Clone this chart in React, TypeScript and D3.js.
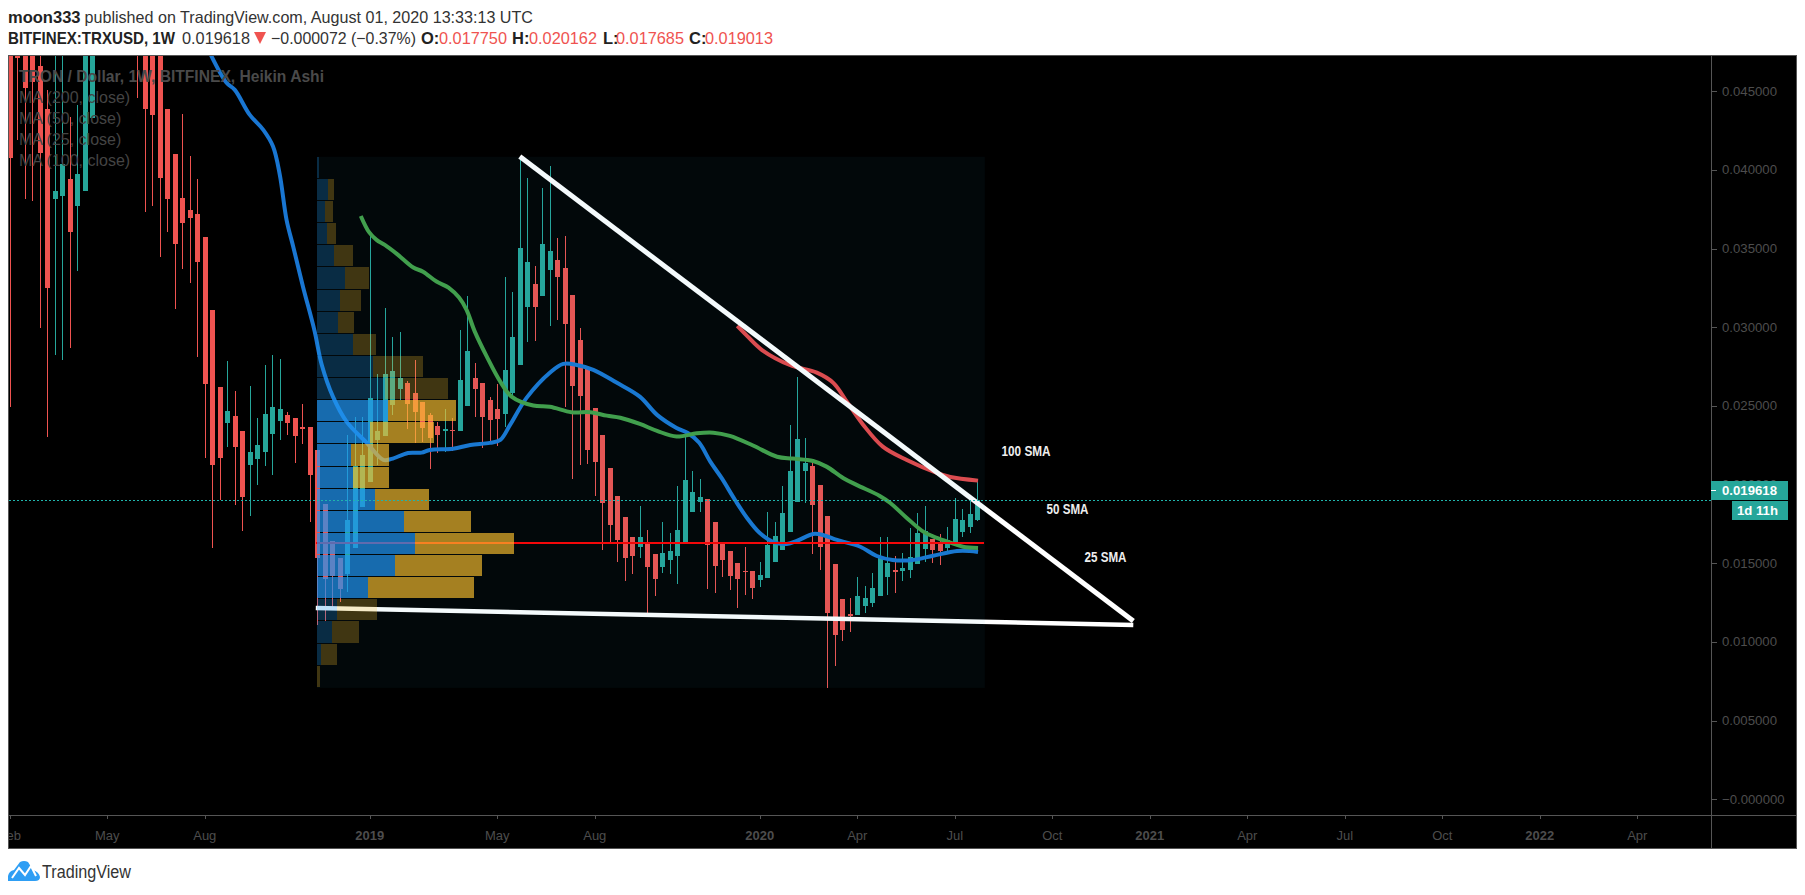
import React from "react";
import * as d3 from "d3";

// Weekly Heikin Ashi candles, week 1 .. week 130
const opens = [
  .04826,.04889,.04950,.04900,.04660,.04388,.03815,.03834,.03942,.03771,
  .03866,.04330,.05600,.05400,.05800,.05600,.05400,.05200,.04900,.04800,
  .04800,.04388,.04101,.03822,.03745,.03720,.03574,.03110,.02620,.02392,
  .02436,.02341,.02125,.02163,.02208,.02322,.02405,.02443,.02424,.02366,
  .02366,.02220,.01877,.01642,.01534,.01432,.01597,.01858,.02017,.02284,
  .02309,.02506,.02608,.02646,.02582,.02525,.02443,.02373,.02341,.02347,
  .02341,.02500,.02678,.02646,.02538,.02481,.02449,.02582,.02760,.03129,
  .03275,.03199,.03364,.03428,.03377,.03205,.02919,.02741,.02487,.02316,
  .02106,.01928,.01795,.01667,.01604,.01629,.01559,.01477,.01521,.01547,
  .01636,.01826,.01890,.01909,.01763,.01623,.01578,.01502,.01451,.01451,
  .01394,.01407,.01509,.01585,.01699,.01890,.02087,.02119,.01998,.01801,
  .01496,.01273,.01178,.01172,.01229,.01248,.01292,.01413,.01458,.01451,
  .01458,.01496,.01591,.01655,.01636,.01597,.01636,.01699,.01731,.01775,
];
const highs = [
  .04950,.04950,.05100,.05050,.04950,.04508,.04900,.04900,.04336,.04413,
  .05300,.05500,.06100,.06000,.06500,.05900,.05700,.05400,.05000,.04950,
  .04900,.04388,.04101,.04356,.04089,.03942,.03574,.03110,.02620,.02786,
  .02595,.02341,.02627,.02424,.02760,.02824,.02799,.02462,.02424,.02513,
  .02366,.02220,.01877,.01642,.01534,.02316,.02430,.02430,.03599,.02703,
  .03123,.02938,.02970,.02659,.02792,.02525,.02455,.02398,.02481,.02424,
  .02983,.03199,.02773,.02646,.02557,.02640,.03320,.03224,.04070,.03949,
  .03390,.03885,.04025,.03568,.03580,.03205,.02996,.02741,.02487,.02316,
  .02106,.01928,.01795,.01667,.01864,.01712,.01559,.01763,.01693,.01991,
  .02316,.02087,.02036,.01909,.01763,.01623,.01578,.01502,.01604,.01451,
  .01509,.01826,.01763,.01991,.02379,.02684,.02297,.02138,.01998,.01801,
  .01496,.01273,.01280,.01413,.01356,.01439,.01667,.01667,.01547,.01566,
  .01725,.01820,.01864,.01655,.01686,.01731,.01915,.01845,.01902,.020162,
];
const lows = [
  .02493,.04190,.03815,.03803,.02997,.02305,.02824,.02792,.02870,.03360,
  .03866,.04330,.05200,.05000,.05300,.05100,.05000,.04459,.03735,.03773,
  .03449,.03608,.03118,.03372,.03284,.02813,.02171,.01599,.01902,.02239,
  .01871,.01705,.01801,.01998,.02119,.02061,.02284,.02316,.02138,.02258,
  .01763,.01108,.01134,.01222,.01254,.01318,.01597,.01858,.02017,.02125,
  .02309,.02443,.02538,.02354,.02265,.02271,.02099,.02201,.02208,.02214,
  .02341,.02500,.02430,.02233,.02265,.02246,.02366,.02563,.02760,.02907,
  .02913,.03199,.03008,.03046,.02493,.02036,.02125,.02131,.01928,.01585,
  .01636,.01509,.01388,.01432,.01534,.01184,.01292,.01439,.01432,.01369,
  .01636,.01826,.01826,.01337,.01312,.01413,.01331,.01216,.01299,.01273,
  .01350,.01407,.01509,.01585,.01699,.01890,.01883,.01559,.01458,.00708,
  .00848,.01007,.01064,.01172,.01184,.01222,.01292,.01299,.01312,.01388,
  .01407,.01496,.01509,.01502,.01489,.01566,.01636,.01667,.01693,.017685,
];
const closes = [
  .04078,.04713,.04523,.04561,.04110,.03252,.03866,.04036,.03608,.03974,
  .05000,.05200,.05400,.05800,.05600,.05400,.05300,.04900,.04388,.04349,
  .03951,.03815,.03529,.03665,.03695,.03415,.02640,.02125,.02171,.02468,
  .02239,.01922,.02208,.02252,.02449,.02493,.02481,.02392,.02309,.02354,
  .02061,.01534,.01400,.01420,.01337,.01775,.02119,.02188,.02551,.02341,
  .02703,.02722,.02678,.02513,.02462,.02360,.02297,.02316,.02354,.02341,
  .02665,.02849,.02608,.02430,.02411,.02417,.02729,.02938,.03504,.03415,
  .03129,.03529,.03485,.03320,.03021,.02627,.02563,.02220,.02144,.01883,
  .01744,.01648,.01534,.01547,.01667,.01477,.01400,.01566,.01578,.01712,
  .02030,.01953,.01922,.01617,.01483,.01521,.01420,.01400,.01445,.01343,
  .01426,.01617,.01674,.01820,.02087,.02290,.02138,.01871,.01604,.01184,
  .01045,.01076,.01165,.01292,.01280,.01343,.01534,.01502,.01445,.01470,
  .01540,.01693,.01705,.01585,.01578,.01648,.01782,.01775,.01813,.019013,
];

// Moving averages as week / price pairs
const ma25Weeks = [27.8,29.9,31,33,34.8,36.1,37,37.9,38.8,40.1,41.6,42.6,44.1,45.9,48.6,50.8,51.9,54.1,55.9,57,60.1,62.4,65,66.4,67.7,69.9,73,74.8,76.6,78.8,81.9,85,87.3,89.9,91.4,92.9,94.4,95.9,97.7,99.3,101,102.8,104.6,106,108.1,109.4,111.3,114.4,116.6,118.7,121.4,124.1,127.3,129,130.1];
const ma25Values = [.04731,.04553,.04508,.04349,.04254,.04148,.03968,.03682,.03510,.03256,.02983,.02760,.02557,.02400,.02265,.02157,.02163,.02201,.02203,.02220,.02227,.02252,.02265,.02284,.02379,.02551,.02711,.02767,.02760,.02729,.02648,.02559,.02443,.02360,.02328,.02267,.02146,.02042,.01902,.01788,.01692,.01635,.01623,.01643,.01686,.01680,.01648,.01605,.01546,.01521,.01521,.01548,.01578,.01578,.01572];
const ma50Weeks = [47.8,48.9,49.9,51,52.6,54.8,56.1,57.9,59.5,60.9,61.9,63,64.6,66.4,67.9,70.8,73,75.9,78.4,80.6,82.4,85,87.3,89.9,92.6,94.8,97,100.1,103.3,105.4,108.1,109.9,112.1,113.9,117,118.4,120.6,122.8,124.6,126.4,128.1,130.1];
const ma50Values = [.03707,.03604,.03555,.03523,.03466,.03379,.03353,.03290,.03252,.03188,.03110,.02972,.02813,.02654,.02559,.02502,.02495,.02460,.02460,.02438,.02425,.02385,.02341,.02305,.02326,.02330,.02309,.02248,.02177,.02165,.02150,.02114,.02042,.01998,.01928,.01883,.01788,.01701,.01661,.01631,.01605,.01597];
const ma100Weeks = [98,99.3,101.3,105,108.6,110.8,112.6,114.8,117.4,120.6,124.6,126.4,130.1];
const ma100Values = [.03008,.02945,.02855,.02760,.02711,.02646,.02527,.02379,.02241,.02156,.02074,.02048,.02025];

// Trend lines (week, price)
const upperTrendWeeks = [69, 150.8];
const upperTrendPrices = [.04084, .01133];
const lowerTrendWeeks = [41.8, 150.8];
const lowerTrendPrices = [.01216, .01108];

// Volume profile rows, top to bottom
const vpTopPrice = .04083;
const vpBottomPrice = .00708;
const vpFirstWeek = 42;
const vpLastWeek = 131;
const vpUp = [2,11,8,10,17,28,23,21,36,56,68,71,53,34,36,58,87,98,78,51,20,15,4,0];
const vpDown = [0,6,8,9,19,24,21,16,23,50,63,68,64,38,36,54,67,99,87,106,40,27,16,3];
const vpValueAreaRows = [11,12,13,14,15,16,17,18,19];
const pocPrice = .0163;

const priceTicks = [.045,.04,.035,.03,.025,.02,.015,.01,.005,0];
const priceTickLabels = ["0.045000","0.040000","0.035000","0.030000","0.025000","0.020000","0.015000","0.010000","0.005000","−0.000000"];
const timeTickWeeks = [1,14,27,49,66,79,101,114,127,140,153,166,179,192,205,218];
const timeTickLabels = ["Feb","May","Aug","2019","May","Aug","2020","Apr","Jul","Oct","2021","Apr","Jul","Oct","2022","Apr"];
const legendLines = ["MA (200, close)","MA (50, close)","MA (25, close)","MA (100, close)"];
const lastPrice = .019013;

const UP = "#26a69a";
const DOWN = "#ef5350";
const FONT = "'Liberation Sans', Arial, sans-serif";
const PANE = { l: 9, t: 56, r: 1711, b: 815, outer: 1796, bottom: 848 };

const x = d3.scaleLinear().domain([0, 218]).range([2.3, 2.3 + 7.5 * 218]);
const y = d3.scaleLinear().domain([0, 0.045]).range([799.3, 91.15]);
const vol = d3.scaleLinear().domain([0, 197]).range([0, 197]);

function maPath(weeks: number[], values: number[]) {
  const pts = weeks.map((w, i) => [x(w), y(values[i])] as [number, number]);
  return d3.line().curve(d3.curveCatmullRom.alpha(0.5))(pts) || "";
}

export default function App() {
  const weeks = d3.range(1, opens.length + 1);
  const rowH = (y(vpBottomPrice) - y(vpTopPrice)) / vpUp.length;
  const vpLeft = x(vpFirstWeek) - 0.3;
  const vpTop = y(vpTopPrice);
  return (
    <svg width={1805} height={895} viewBox="0 0 1805 895"
      style={{ position: "absolute", left: 0, top: 0, display: "block", background: "#fff" }}
      fontFamily={FONT}>
      <defs>
        <clipPath id="pane"><rect x={PANE.l} y={PANE.t} width={PANE.r - PANE.l} height={PANE.b - PANE.t} /></clipPath>
        <clipPath id="timeaxis"><rect x={PANE.l} y={PANE.b} width={PANE.r - PANE.l} height={PANE.bottom - PANE.b} /></clipPath>
      </defs>

      {/* header */}
      <text x={8} y={23} fontSize={16.5} fontWeight={700} fill="#222" textLength={72.5} lengthAdjust="spacingAndGlyphs">moon333</text>
      <text x={84.5} y={23} fontSize={16.5} fill="#333" textLength={448.5} lengthAdjust="spacingAndGlyphs">published on TradingView.com, August 01, 2020 13:33:13 UTC</text>
      <text x={8} y={44} fontSize={16.5} fontWeight={700} fill="#222" textLength={167} lengthAdjust="spacingAndGlyphs">BITFINEX:TRXUSD, 1W</text>
      <text x={182} y={44} fontSize={16.5} fill="#333" textLength={68} lengthAdjust="spacingAndGlyphs">0.019618</text>
      <path d="M254 32 H266 L260 44 Z" fill={DOWN} />
      <text x={271} y={44} fontSize={16.5} fill="#333" textLength={145} lengthAdjust="spacingAndGlyphs">−0.000072 (−0.37%)</text>
      {[["O:", 421, "0.017750", 439], ["H:", 512, "0.020162", 529], ["L:", 603, "0.017685", 616], ["C:", 689, "0.019013", 705]].map(([k, kx, v, vx]) => (
        <g key={k as string}>
          <text x={kx as number} y={44} fontSize={16.5} fontWeight={700} fill="#222">{k}</text>
          <text x={vx as number} y={44} fontSize={16.5} fill={DOWN} textLength={68} lengthAdjust="spacingAndGlyphs">{v}</text>
        </g>
      ))}

      {/* chart frame */}
      <rect x={PANE.l - 0.5} y={PANE.t - 0.5} width={PANE.outer - PANE.l + 1} height={PANE.bottom - PANE.t + 1} fill="#000" stroke="#555" />

      <g clipPath="url(#pane)">
        {/* candles */}
        <g shapeRendering="crispEdges">
          {weeks.map((w, i) => {
            const cx = Math.round(x(w));
            const c = closes[i] >= opens[i] ? UP : DOWN;
            const top = y(Math.max(opens[i], closes[i]));
            const bot = y(Math.min(opens[i], closes[i]));
            return (
              <g key={w} fill={c}>
                <rect x={cx} y={y(highs[i])} width={1} height={y(lows[i]) - y(highs[i])} />
                <rect x={cx - 2} y={top} width={5} height={Math.max(1.5, bot - top)} />
              </g>
            );
          })}
        </g>

        {/* moving averages */}
        <path d={maPath(ma25Weeks, ma25Values)} fill="none" stroke="#1976d2" strokeWidth={4} />
        <path d={maPath(ma100Weeks, ma100Values)} fill="none" stroke="#e5484a" strokeWidth={4} />
        <path d={maPath(ma50Weeks, ma50Values)} fill="none" stroke="#43a047" strokeWidth={4} />

        {/* trend lines */}
        <line x1={x(upperTrendWeeks[0])} y1={y(upperTrendPrices[0])} x2={x(upperTrendWeeks[1])} y2={y(upperTrendPrices[1])} stroke="#fff" strokeWidth={5} />
        <line x1={x(lowerTrendWeeks[0])} y1={y(lowerTrendPrices[0])} x2={x(lowerTrendWeeks[1])} y2={y(lowerTrendPrices[1])} stroke="#fff" strokeWidth={4.5} />

        {/* point of control */}
        <line x1={vpLeft - 1} x2={984} y1={y(pocPrice)} y2={y(pocPrice)} stroke="#ff0000" strokeWidth={2} shapeRendering="crispEdges" />

        {/* volume profile */}
        <rect x={vpLeft} y={vpTop} width={x(vpLastWeek) - vpLeft} height={y(vpBottomPrice) - vpTop} fill="rgb(30,150,190)" fillOpacity={0.05} />
        <g shapeRendering="crispEdges">
          {vpUp.map((u, r) => {
            const bright = vpValueAreaRows.includes(r);
            const ry = vpTop + r * rowH;
            return (
              <g key={r}>
                <rect x={vpLeft} y={ry} width={vol(u)} height={rowH - 1} fill="rgb(33,150,243)" fillOpacity={bright ? 0.7 : 0.25} />
                <rect x={vpLeft + vol(u)} y={ry} width={vol(vpDown[r])} height={rowH - 1} fill="rgb(251,192,45)" fillOpacity={bright ? 0.66 : 0.25} />
              </g>
            );
          })}
        </g>

        {/* last price line */}
        <line x1={PANE.l} x2={PANE.r} y1={y(lastPrice)} y2={y(lastPrice)} stroke="#1fb5ad" strokeDasharray="2 2" shapeRendering="crispEdges" />

        {/* annotations */}
        <g fill="#eee" fontSize={14} fontWeight={700} dominantBaseline="central">
          <text x={1001.5} y={451} textLength={49} lengthAdjust="spacingAndGlyphs">100 SMA</text>
          <text x={1046.5} y={509} textLength={42} lengthAdjust="spacingAndGlyphs">50 SMA</text>
          <text x={1084.5} y={557} textLength={42} lengthAdjust="spacingAndGlyphs">25 SMA</text>
        </g>

        {/* legend */}
        <text x={19} y={82} fontSize={16} fontWeight={700} fill="#4a4a4a" textLength={305} lengthAdjust="spacingAndGlyphs">TRON / Dollar, 1W, BITFINEX, Heikin Ashi</text>
        {legendLines.map((t, i) => (
          <text key={t} x={19} y={103 + i * 21} fontSize={16} fill="#444">{t}</text>
        ))}
      </g>

      {/* price scale */}
      <line x1={PANE.r + 0.5} x2={PANE.r + 0.5} y1={PANE.t} y2={PANE.bottom} stroke="#555" />
      {priceTicks.map((p, i) => (
        <g key={p}>
          <line x1={PANE.r} x2={PANE.r + 6} y1={Math.round(y(p)) + 0.5} y2={Math.round(y(p)) + 0.5} stroke="#555" />
          <text x={1722} y={y(p)} dominantBaseline="central" fontSize={13.2} fill="#4d4d4d">{priceTickLabels[i]}</text>
        </g>
      ))}
      <rect x={PANE.r} y={481} width={77} height={19} fill={UP} />
      <line x1={PANE.r} x2={PANE.r + 5} y1={490.5} y2={490.5} stroke="#fff" />
      <text x={1722} y={490.5} dominantBaseline="central" fontSize={13.2} fontWeight={700} fill="#fff">0.019618</text>
      <rect x={1732} y={501} width={56} height={19} fill={UP} />
      <text x={1737} y={510.5} dominantBaseline="central" fontSize={13.2} fontWeight={700} fill="#fff" textLength={41} lengthAdjust="spacingAndGlyphs">1d 11h</text>

      {/* time scale */}
      <line x1={PANE.l} x2={PANE.outer} y1={PANE.b + 0.5} y2={PANE.b + 0.5} stroke="#555" />
      <line x1={PANE.r + 0.5} x2={PANE.r + 0.5} y1={PANE.b} y2={PANE.bottom} stroke="#555" />
      <g clipPath="url(#timeaxis)">
        {timeTickWeeks.map((w, i) => {
          const isYear = /^\d/.test(timeTickLabels[i]);
          return (
            <g key={w}>
              <line x1={Math.round(x(w)) + 0.5} x2={Math.round(x(w)) + 0.5} y1={PANE.b} y2={PANE.b + 4} stroke="#555" />
              <text x={x(w)} y={835} textAnchor="middle" dominantBaseline="central" fontSize={13} fontWeight={isYear ? 700 : 400} fill="#4d4d4d">{timeTickLabels[i]}</text>
            </g>
          );
        })}
      </g>

      {/* footer */}
      <path d="M8 881 L8 876 Q9 871 14 870 L20 862 Q24 860 28 862 L33 870 Q39 872 40 877 Q40 881 35 881 Z" fill="#2e9ef4" />
      <path d="M12 878 L19 868 L25 875 L31 866 L36 876" fill="none" stroke="#fff" strokeWidth={2} />
      <text x={42} y={878} fontSize={17.5} fill="#333" textLength={89} lengthAdjust="spacingAndGlyphs">TradingView</text>
    </svg>
  );
}
